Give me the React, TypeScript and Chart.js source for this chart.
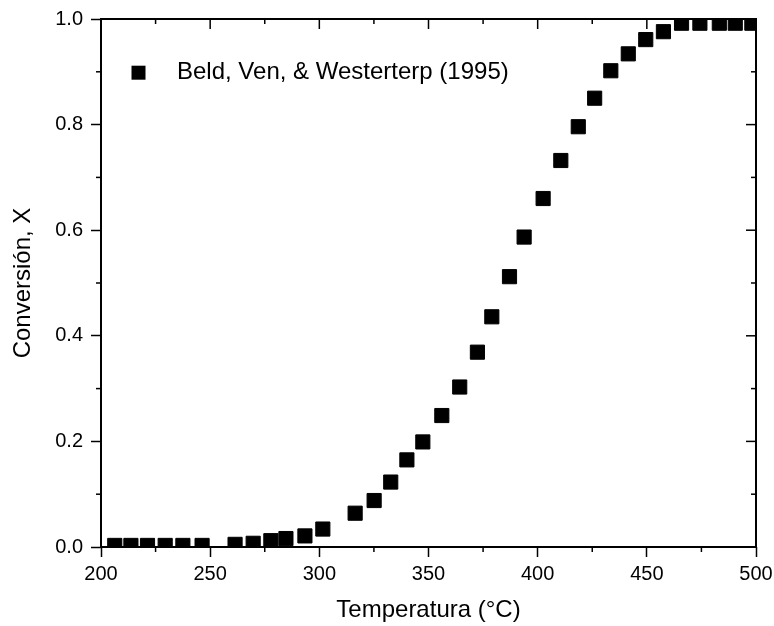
import React, { useEffect, useRef } from 'react';
import { Chart, registerables } from 'chart.js';

Chart.register(...registerables);

// ---- data ----
const SERIES_LABEL = 'Beld, Ven, & Westerterp (1995)';
const X_TITLE = 'Temperatura (°C)';
const Y_TITLE = 'Conversión, X';

const temperatures = [
  206.3, 213.7, 221.3, 229.4, 237.5, 246.3, 261.4, 269.7, 277.8, 284.7, 293.4, 301.6,
  316.4, 325.1, 332.7, 340.1, 347.4, 356.1, 364.3, 372.4, 379.0, 387.1, 393.8, 402.5,
  410.6, 418.6, 426.1, 433.5, 441.5, 449.5, 457.6, 465.9, 474.3, 483.2, 490.5, 498.1,
];
const conversions = [
  0.003, 0.003, 0.003, 0.003, 0.003, 0.003, 0.005, 0.007, 0.012, 0.016, 0.021, 0.034,
  0.064, 0.088, 0.123, 0.165, 0.199, 0.249, 0.303, 0.369, 0.436, 0.512, 0.587, 0.660,
  0.732, 0.796, 0.850, 0.902, 0.934, 0.961, 0.976, 0.992, 0.992, 0.992, 0.992, 0.992,
];

const X_MIN = 200;
const X_MAX = 500;
const X_STEP = 50;
const Y_MIN = 0;
const Y_MAX = 1;
const Y_STEP = 0.2;

const FONT = "'Liberation Sans', Arial, Helvetica, sans-serif";

const framePlugin = {
  id: 'frameAndLegend',
  beforeDraw(chart: any) {
    const { ctx, width, height } = chart;
    ctx.save();
    ctx.fillStyle = '#ffffff';
    ctx.fillRect(0, 0, width, height);
    ctx.restore();
  },
  afterDatasetsDraw(chart: any) {
    const { ctx, chartArea: a, scales } = chart;
    const xs = scales.x;
    const ys = scales.y;
    ctx.save();
    ctx.strokeStyle = '#000';
    ctx.lineWidth = 1.5;
    const line = (x1: number, y1: number, x2: number, y2: number) => {
      ctx.beginPath();
      ctx.moveTo(x1, y1);
      ctx.lineTo(x2, y2);
      ctx.stroke();
    };
    const MAJ = 10;
    const MIN = 5;
    const xMajor = xs.ticks.map((t: any) => t.value);
    xMajor.forEach((v: number, i: number) => {
      const px = xs.getPixelForValue(v);
      line(px, a.top, px, a.top + MAJ);
      if (i < xMajor.length - 1) {
        const m = xs.getPixelForValue((v + xMajor[i + 1]) / 2);
        line(m, a.bottom, m, a.bottom + MIN);
        line(m, a.top, m, a.top + MIN);
      }
    });
    const yMajor = ys.ticks.map((t: any) => t.value);
    yMajor.forEach((v: number, i: number) => {
      const py = ys.getPixelForValue(v);
      line(a.right, py, a.right - MAJ, py);
      if (i < yMajor.length - 1) {
        const m = ys.getPixelForValue((v + yMajor[i + 1]) / 2);
        line(a.left, m, a.left - MIN, m);
        line(a.right, m, a.right - MIN, m);
      }
    });
    ctx.lineWidth = 2;
    ctx.strokeRect(a.left, a.top, a.right - a.left, a.bottom - a.top);

    // legend inside the plot
    const ds = chart.data.datasets[0];
    const cx = a.left + 37.5;
    const cy = a.top + 53.7;
    const side = 14;
    ctx.fillStyle = ds.backgroundColor;
    ctx.fillRect(cx - side / 2, cy - side / 2, side, side);
    ctx.fillStyle = '#000';
    ctx.font = `24px ${FONT}`;
    ctx.textBaseline = 'middle';
    ctx.textAlign = 'left';
    ctx.fillText(ds.label, a.left + 76, cy);
    ctx.restore();
  },
};

export default function App() {
  const ref = useRef<HTMLCanvasElement | null>(null);
  useEffect(() => {
    if (!ref.current) return;
    const points = temperatures.map((t, i) => ({ x: t, y: conversions[i] }));
    const chart = new Chart(ref.current, {
      type: 'scatter',
      data: {
        datasets: [
          {
            label: SERIES_LABEL,
            data: points,
            pointStyle: 'rect',
            pointRadius: 10,
            pointHoverRadius: 10,
            pointBorderWidth: 1,
            backgroundColor: '#000000',
            borderColor: '#000000',
            clip: 0,
          } as any,
        ],
      },
      options: {
        responsive: false,
        animation: false,
        devicePixelRatio: 1,
        layout: { padding: { top: 19, right: 18, bottom: 0, left: 0 } },
        plugins: {
          legend: { display: false },
          tooltip: { enabled: false },
        },
        scales: {
          x: {
            type: 'linear',
            position: 'bottom',
            min: X_MIN,
            max: X_MAX,
            ticks: {
              stepSize: X_STEP,
              color: '#000',
              font: { family: FONT, size: 20 },
              padding: 5,
              maxRotation: 0,
              callback: (v: any) => String(v),
            },
            grid: {
              display: true,
              drawOnChartArea: false,
              drawTicks: true,
              tickLength: 10,
              tickWidth: 1.5,
              tickColor: '#000',
            },
            border: { display: false },
            title: {
              display: true,
              text: X_TITLE,
              color: '#000',
              font: { family: FONT, size: 24 },
              padding: { top: 0, bottom: 1 },
            },
            afterFit: (s: any) => {
              s.height = 79;
              s.paddingLeft = 0;
              s.paddingRight = 0;
            },
          },
          y: {
            type: 'linear',
            position: 'left',
            min: Y_MIN,
            max: Y_MAX,
            ticks: {
              stepSize: Y_STEP,
              color: '#000',
              font: { family: FONT, size: 20 },
              padding: 8,
              callback: (v: any) => Number(v).toFixed(1),
            },
            grid: {
              display: true,
              drawOnChartArea: false,
              drawTicks: true,
              tickLength: 10,
              tickWidth: 1.5,
              tickColor: '#000',
            },
            border: { display: false },
            title: {
              display: true,
              text: Y_TITLE,
              color: '#000',
              font: { family: FONT, size: 24 },
              padding: { top: 9, bottom: 0 },
            },
            afterFit: (s: any) => {
              s.width = 101;
              s.paddingTop = 0;
              s.paddingBottom = 0;
            },
          },
        },
      },
      plugins: [framePlugin],
    });
    return () => chart.destroy();
  }, []);
  return (
    <canvas
      ref={ref}
      width={774}
      height={626}
      style={{ position: 'absolute', left: 0, top: 0, width: 774, height: 626 }}
    />
  );
}
